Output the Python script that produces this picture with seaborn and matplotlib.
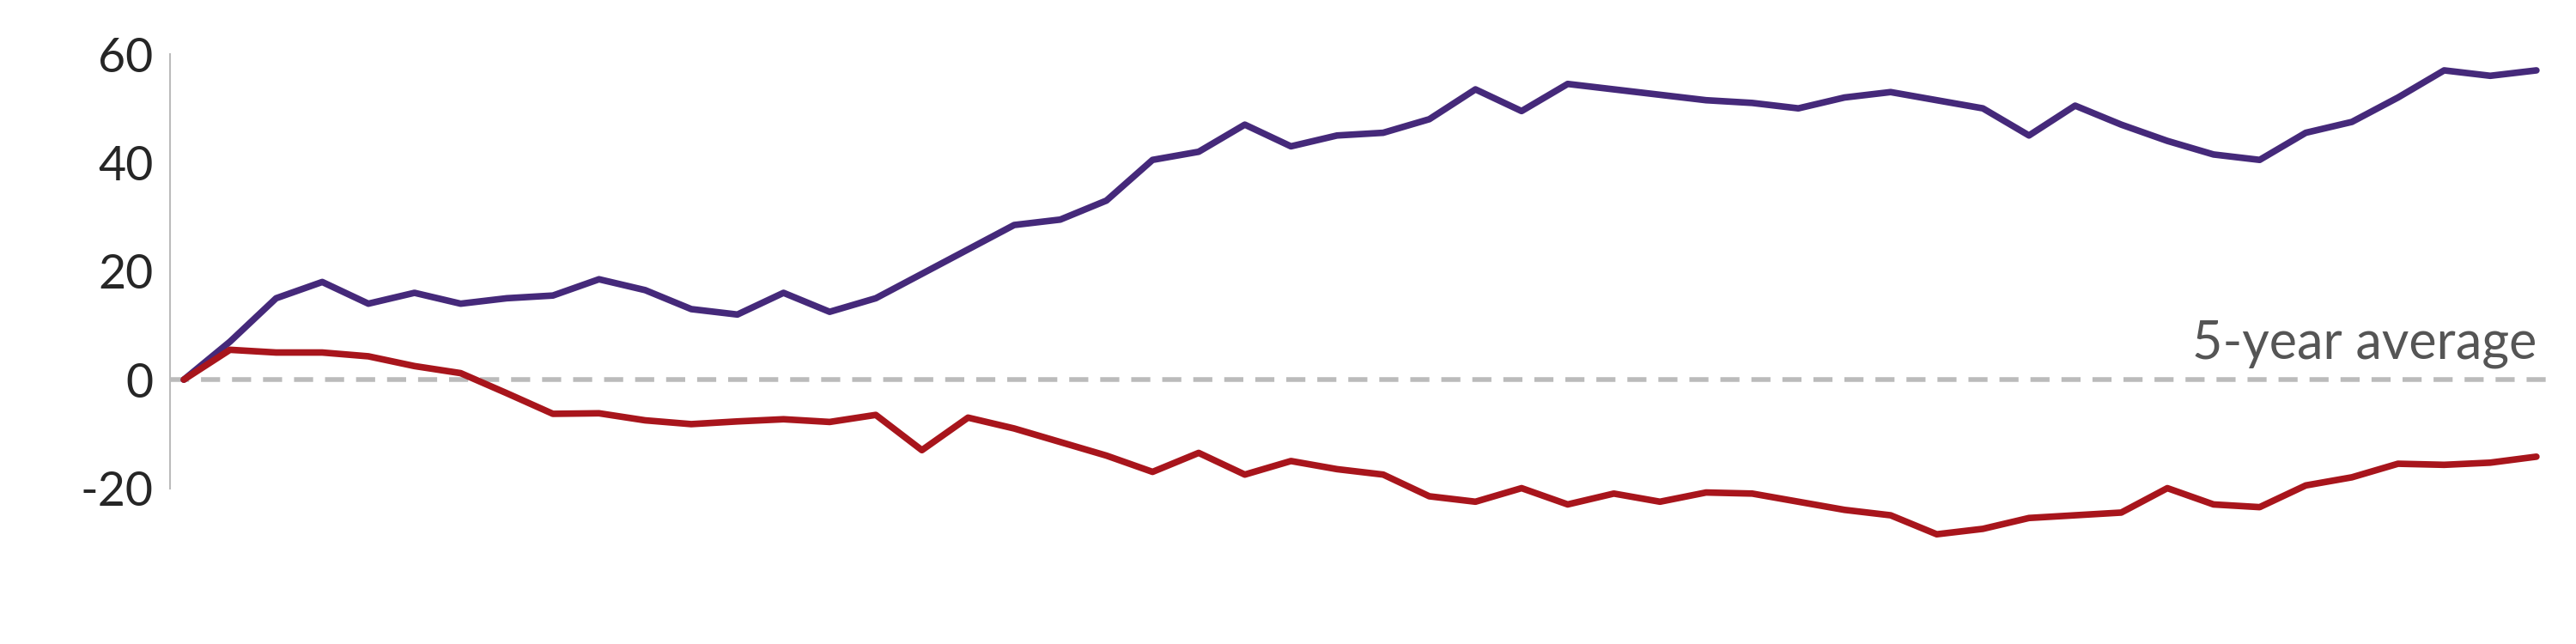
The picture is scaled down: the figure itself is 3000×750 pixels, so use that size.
import numpy as np
import pandas as pd
import seaborn as sns
import matplotlib.pyplot as plt

# Values
purple = [0, 7, 15, 18, 14, 16, 14, 15, 15.5, 18.5, 16.5, 13, 12, 16, 12.5, 15,
          19.5, 24, 28.5, 29.5, 33, 40.5, 42, 47, 43, 45, 45.5, 48, 53.5, 49.5,
          54.5, 53.5, 52.5, 51.5, 51, 50, 52, 53, 51.5, 50, 45, 50.5, 47, 44,
          41.5, 40.5, 45.5, 47.5, 52, 57, 56, 57]
red = [0, 5.5, 5, 5, 4.3, 2.5, 1.2, -2.5, -6.3, -6.2, -7.5, -8.2, -7.7, -7.3,
       -7.8, -6.5, -13, -7, -9, -11.5, -14, -17, -13.5, -17.5, -15, -16.5, -17.5,
       -21.5, -22.5, -20, -23, -21, -22.5, -20.8, -21, -22.5, -24, -25, -28.5,
       -27.5, -25.5, -25, -24.5, -20, -23, -23.5, -19.5, -18, -15.5, -15.7,
       -15.3, -14.2]
yticks = [-20, 0, 20, 40, 60]

df = pd.DataFrame({'step': np.arange(len(purple)), 'purple': purple, 'red': red})

sns.set_style('white')
plt.rcParams['font.family'] = ['Lato', 'DejaVu Sans']

fig = plt.figure(figsize=(30, 7.5), dpi=100)
ax = fig.add_axes([0.066, 0.242, 0.924, 0.674])

ax.axhline(0, color='#bbbbbb', lw=4, ls=(0, (4, 2.5)), zorder=1)
sns.lineplot(data=df, x='step', y='purple', color='#45297a', lw=5.5, ax=ax, zorder=3)
sns.lineplot(data=df, x='step', y='red', color='#a8151c', lw=5.5, ax=ax, zorder=3)
for line in ax.lines:
    line.set_clip_on(False)

ax.text(len(purple) - 1, 2, '5-year average', ha='right', va='bottom',
        fontsize=44, color='#555555')

ax.set_ylim(-20, 60)
ax.set_xlim(-0.3, len(purple) - 0.7)
ax.set_yticks(yticks)
ax.set_yticklabels([str(t) for t in yticks], fontsize=40)
ax.set_xticks([])
ax.set_xlabel('')
ax.set_ylabel('')
for s in ['top', 'right', 'bottom']:
    ax.spines[s].set_visible(False)
ax.spines['left'].set_color('#bbbbbb')
ax.spines['left'].set_linewidth(1.5)
ax.tick_params(axis='y', length=10, color='#bbbbbb', width=1.5, pad=4)

fig.savefig('out.png')
